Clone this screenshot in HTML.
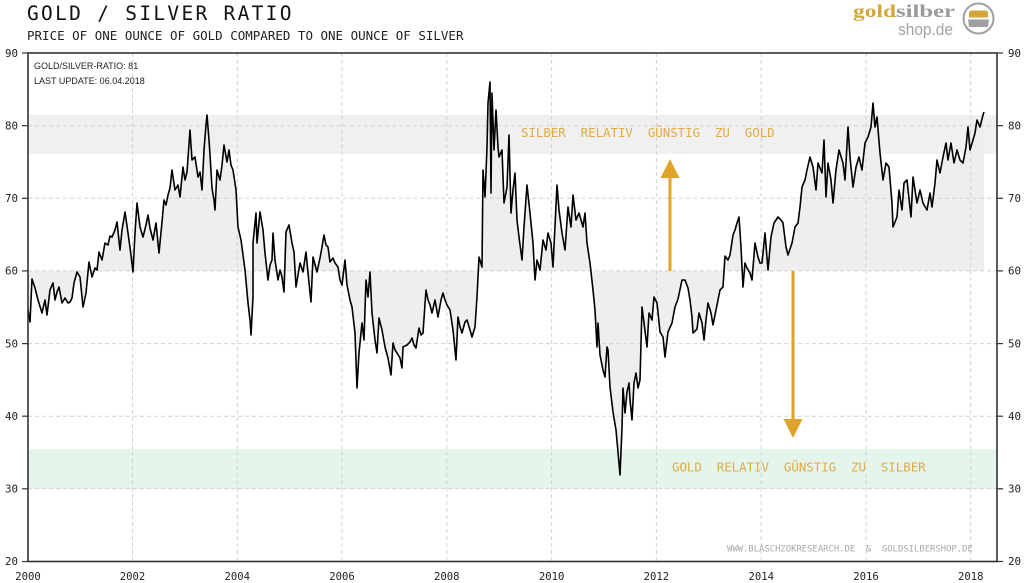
<!DOCTYPE html>
<html><head><meta charset="utf-8"><style>
html,body{margin:0;padding:0;background:#fff;}
svg{display:block;}
.mono{font-family:"DejaVu Sans Mono","Liberation Mono",monospace;}
</style></head><body>
<svg width="1024" height="583" viewBox="0 0 1024 583" xmlns="http://www.w3.org/2000/svg">
<rect x="0" y="0" width="1024" height="583" fill="#fff"/>
<rect x="28" y="115" width="969" height="39" fill="#f0f0f0"/>
<rect x="28" y="449" width="969" height="40" fill="#e4f5eb"/>
<polygon fill="#eeeeee" points="28,310 30,322 32,279 35,288 38,300 42,313 45,300 47,315 50,290 53,283 55,300 57,292 59,287 62,303 65,298 68,303 70,302 72,298 74,283 77,272 80,277 83,307 86,293 89,262 92,277 95,268 97,270 99,252 102,260 105,243 108,245 110,236 112,237 115,230 117,222 120,250 122,230 125,212 128,233 131,255 133,272 135,233 137,203 140,227 143,237 146,225 148,215 150,228 153,240 156,223 159,253 162,222 164,200 166,205 168,195 170,188 172,170 175,190 178,185 180,197 183,167 185,180 187,172 190,130 192,160 195,157 198,177 200,172 202,190 204,150 206,125 207,115 209,140 210,155 212,188 214,200 215,210 217,170 220,180 222,165 224,145 227,162 229,150 231,165 233,170 236,190 238,227 241,240 243,255 245,270 248,303 250,320 251,335 253,297 253,243 256,213 257,243 260,212 263,230 265,253 268,280 270,265 272,260 273,233 275,260 278,280 280,270 282,277 284,292 286,232 289,225 292,243 294,252 296,287 298,275 300,263 303,272 306,252 308,273 311,302 313,257 317,272 320,258 322,247 324,235 326,245 328,247 330,262 333,258 335,263 338,267 340,280 342,285 345,260 347,285 350,300 352,307 355,333 357,388 359,353 362,323 364,340 366,280 368,297 370,272 372,313 375,340 377,353 379,318 382,330 385,347 388,358 391,375 393,343 395,350 397,353 400,358 402,368 403,347 407,345 410,342 412,338 414,345 416,348 419,328 421,335 423,333 426,290 428,300 430,305 432,313 435,300 438,317 441,300 443,293 445,300 447,305 450,310 453,330 456,360 458,317 460,327 462,333 465,322 467,320 470,330 472,337 475,327 477,297 479,257 482,267 483,170 485,197 487,147 488,103 490,82 491,193 492,93 494,150 496,110 498,147 499,157 502,150 504,203 507,187 509,135 511,213 513,190 515,173 517,220 519,237 522,260 524,227 527,185 530,213 533,243 535,280 537,260 540,270 543,240 546,250 548,233 551,243 553,267 557,185 559,210 562,233 565,250 568,207 571,227 573,195 576,220 579,213 583,227 585,213 587,243 590,263 593,290 595,310 597,347 598,323 600,355 603,370 605,377 607,347 608,350 610,387 613,412 616,430 618,452 620,475 622,428 623,388 625,413 627,392 629,383 630,400 632,420 634,383 636,373 638,388 640,380 642,307 644,323 647,347 649,313 652,320 654,297 657,303 660,332 663,337 665,357 668,332 672,323 675,307 678,299 682,280 685,280 688,288 690,300 692,317 693,333 697,329 699,313 702,323 704,340 706,320 708,303 711,313 713,325 717,305 720,290 723,287 725,256 728,260 730,255 733,235 735,230 737,223 739,217 741,247 743,287 745,263 747,268 750,273 752,280 755,243 758,257 760,263 762,263 765,233 768,270 771,237 774,223 778,217 781,220 783,223 786,247 788,255 792,243 795,227 798,223 800,207 802,187 805,180 807,170 810,157 813,167 816,190 818,163 822,173 824,140 826,197 828,163 831,180 833,203 836,170 839,150 843,163 845,180 848,127 850,157 853,187 856,167 859,157 862,170 865,143 868,137 871,127 873,103 875,127 877,117 880,153 883,180 886,163 889,167 892,203 893,227 897,217 899,190 902,210 904,183 907,180 911,217 913,177 917,203 920,190 923,203 927,210 930,193 932,207 935,183 937,160 940,173 943,157 946,143 948,160 951,143 954,163 957,150 960,160 963,163 966,147 968,127 970,150 973,140 975,133 977,120 980,127 983,115 984,112 984,270.9 28,270.9"/>
<g stroke="#d2d2d2" stroke-width="1" stroke-dasharray="4,3" fill="none">
<line x1="28" y1="125.7" x2="997" y2="125.7"/>
<line x1="28" y1="198.3" x2="997" y2="198.3"/>
<line x1="28" y1="270.9" x2="997" y2="270.9"/>
<line x1="28" y1="343.6" x2="997" y2="343.6"/>
<line x1="28" y1="416.2" x2="997" y2="416.2"/>
<line x1="28" y1="488.8" x2="997" y2="488.8"/>
<line x1="132.5" y1="53" x2="132.5" y2="561"/>
<line x1="237.3" y1="53" x2="237.3" y2="561"/>
<line x1="342" y1="53" x2="342" y2="561"/>
<line x1="446.8" y1="53" x2="446.8" y2="561"/>
<line x1="551.6" y1="53" x2="551.6" y2="561"/>
<line x1="656.4" y1="53" x2="656.4" y2="561"/>
<line x1="761.2" y1="53" x2="761.2" y2="561"/>
<line x1="866" y1="53" x2="866" y2="561"/>
<line x1="970.7" y1="53" x2="970.7" y2="561"/>
</g>
<g fill="#dfa22b">
<rect x="668.5" y="176" width="3" height="95"/>
<polygon points="660.5,178 679.5,178 670,159"/>
<rect x="791.5" y="271" width="3" height="150"/>
<polygon points="783.5,419 802.5,419 793,438"/>
</g>
<text class="mono" x="521" y="137" font-size="12.4" fill="#e2aa40" style="white-space:pre">SILBER  RELATIV  GÜNSTIG  ZU  GOLD</text>
<text class="mono" x="672" y="471.5" font-size="12.4" fill="#e2aa40" style="white-space:pre">GOLD  RELATIV  GÜNSTIG  ZU  SILBER</text>
<text class="mono" x="727" y="551.5" font-size="8.9" fill="#a8a8a8" style="white-space:pre">WWW.BLASCHZOKRESEARCH.DE  &amp;  GOLDSILBERSHOP.DE</text>
<polyline fill="none" stroke="#000" stroke-width="1.6" stroke-linejoin="round" points="28,310 30,322 32,279 35,288 38,300 42,313 45,300 47,315 50,290 53,283 55,300 57,292 59,287 62,303 65,298 68,303 70,302 72,298 74,283 77,272 80,277 83,307 86,293 89,262 92,277 95,268 97,270 99,252 102,260 105,243 108,245 110,236 112,237 115,230 117,222 120,250 122,230 125,212 128,233 131,255 133,272 135,233 137,203 140,227 143,237 146,225 148,215 150,228 153,240 156,223 159,253 162,222 164,200 166,205 168,195 170,188 172,170 175,190 178,185 180,197 183,167 185,180 187,172 190,130 192,160 195,157 198,177 200,172 202,190 204,150 206,125 207,115 209,140 210,155 212,188 214,200 215,210 217,170 220,180 222,165 224,145 227,162 229,150 231,165 233,170 236,190 238,227 241,240 243,255 245,270 248,303 250,320 251,335 253,297 253,243 256,213 257,243 260,212 263,230 265,253 268,280 270,265 272,260 273,233 275,260 278,280 280,270 282,277 284,292 286,232 289,225 292,243 294,252 296,287 298,275 300,263 303,272 306,252 308,273 311,302 313,257 317,272 320,258 322,247 324,235 326,245 328,247 330,262 333,258 335,263 338,267 340,280 342,285 345,260 347,285 350,300 352,307 355,333 357,388 359,353 362,323 364,340 366,280 368,297 370,272 372,313 375,340 377,353 379,318 382,330 385,347 388,358 391,375 393,343 395,350 397,353 400,358 402,368 403,347 407,345 410,342 412,338 414,345 416,348 419,328 421,335 423,333 426,290 428,300 430,305 432,313 435,300 438,317 441,300 443,293 445,300 447,305 450,310 453,330 456,360 458,317 460,327 462,333 465,322 467,320 470,330 472,337 475,327 477,297 479,257 482,267 483,170 485,197 487,147 488,103 490,82 491,193 492,93 494,150 496,110 498,147 499,157 502,150 504,203 507,187 509,135 511,213 513,190 515,173 517,220 519,237 522,260 524,227 527,185 530,213 533,243 535,280 537,260 540,270 543,240 546,250 548,233 551,243 553,267 557,185 559,210 562,233 565,250 568,207 571,227 573,195 576,220 579,213 583,227 585,213 587,243 590,263 593,290 595,310 597,347 598,323 600,355 603,370 605,377 607,347 608,350 610,387 613,412 616,430 618,452 620,475 622,428 623,388 625,413 627,392 629,383 630,400 632,420 634,383 636,373 638,388 640,380 642,307 644,323 647,347 649,313 652,320 654,297 657,303 660,332 663,337 665,357 668,332 672,323 675,307 678,299 682,280 685,280 688,288 690,300 692,317 693,333 697,329 699,313 702,323 704,340 706,320 708,303 711,313 713,325 717,305 720,290 723,287 725,256 728,260 730,255 733,235 735,230 737,223 739,217 741,247 743,287 745,263 747,268 750,273 752,280 755,243 758,257 760,263 762,263 765,233 768,270 771,237 774,223 778,217 781,220 783,223 786,247 788,255 792,243 795,227 798,223 800,207 802,187 805,180 807,170 810,157 813,167 816,190 818,163 822,173 824,140 826,197 828,163 831,180 833,203 836,170 839,150 843,163 845,180 848,127 850,157 853,187 856,167 859,157 862,170 865,143 868,137 871,127 873,103 875,127 877,117 880,153 883,180 886,163 889,167 892,203 893,227 897,217 899,190 902,210 904,183 907,180 911,217 913,177 917,203 920,190 923,203 927,210 930,193 932,207 935,183 937,160 940,173 943,157 946,143 948,160 951,143 954,163 957,150 960,160 963,163 966,147 968,127 970,150 973,140 975,133 977,120 980,127 983,115 984,112"/>
<g stroke="#333" stroke-width="1.6" fill="none">
<rect x="28" y="53" width="969" height="508.5"/>
</g>
<g stroke="#333" stroke-width="1.2">
<line x1="22" y1="53" x2="28" y2="53"/><line x1="22" y1="125.7" x2="28" y2="125.7"/><line x1="22" y1="198.3" x2="28" y2="198.3"/><line x1="22" y1="270.9" x2="28" y2="270.9"/><line x1="22" y1="343.6" x2="28" y2="343.6"/><line x1="22" y1="416.2" x2="28" y2="416.2"/><line x1="22" y1="488.8" x2="28" y2="488.8"/><line x1="22" y1="561.5" x2="28" y2="561.5"/>
<line x1="997" y1="53" x2="1003" y2="53"/><line x1="997" y1="125.7" x2="1003" y2="125.7"/><line x1="997" y1="198.3" x2="1003" y2="198.3"/><line x1="997" y1="270.9" x2="1003" y2="270.9"/><line x1="997" y1="343.6" x2="1003" y2="343.6"/><line x1="997" y1="416.2" x2="1003" y2="416.2"/><line x1="997" y1="488.8" x2="1003" y2="488.8"/><line x1="997" y1="561.5" x2="1003" y2="561.5"/>
</g>
<g class="mono" font-size="10.8" fill="#222" text-anchor="end">
<text x="18" y="57">90</text><text x="18" y="129.5">80</text><text x="18" y="202">70</text><text x="18" y="274.5">60</text><text x="18" y="347.5">50</text><text x="18" y="420">40</text><text x="18" y="492.5">30</text><text x="18" y="565">20</text>
</g>
<g class="mono" font-size="10.8" fill="#222">
<text x="1008" y="57">90</text><text x="1008" y="129.5">80</text><text x="1008" y="202">70</text><text x="1008" y="274.5">60</text><text x="1008" y="347.5">50</text><text x="1008" y="420">40</text><text x="1008" y="492.5">30</text><text x="1008" y="565">20</text>
</g>
<g class="mono" font-size="10.6" fill="#222" text-anchor="middle">
<text x="28" y="580">2000</text><text x="132.5" y="580">2002</text><text x="237.3" y="580">2004</text><text x="342" y="580">2006</text><text x="446.8" y="580">2008</text><text x="551.6" y="580">2010</text><text x="656.4" y="580">2012</text><text x="761.2" y="580">2014</text><text x="866" y="580">2016</text><text x="970.7" y="580">2018</text>
</g>
<text x="34" y="69" font-family="Liberation Sans, sans-serif" font-size="9" fill="#222">GOLD/SILVER-RATIO: 81</text>
<text x="34" y="84" font-family="Liberation Sans, sans-serif" font-size="9" fill="#222">LAST UPDATE: 06.04.2018</text>
<text class="mono" x="27" y="20" font-size="19.5" letter-spacing="2.3" fill="#111">GOLD / SILVER RATIO</text>
<text class="mono" x="27" y="40" font-size="12.5" fill="#222">PRICE OF ONE OUNCE OF GOLD COMPARED TO ONE OUNCE OF SILVER</text>
<text x="853" y="17" font-family="Liberation Serif, serif" font-weight="bold" font-size="18" fill="#d3a53a" textLength="43" lengthAdjust="spacingAndGlyphs">gold</text>
<text x="896" y="17" font-family="Liberation Serif, serif" font-weight="bold" font-size="18" fill="#9a9a9a" textLength="59" lengthAdjust="spacingAndGlyphs">silber</text>
<text x="898" y="35" font-family="Liberation Sans, sans-serif" font-size="16.5" fill="#a3a3a3" textLength="55" lengthAdjust="spacingAndGlyphs">shop.de</text>
<circle cx="978.5" cy="18.5" r="15" fill="none" stroke="#a0a0a0" stroke-width="2"/>
<path d="M969,17.5 L988,17.5 L988,13 Q988,10.5 985,10.5 L972,10.5 Q969,10.5 969,13 Z" fill="#d3a53a"/>
<path d="M968,19.5 L989,19.5 L988,27 L969,27 Z" fill="#a0a0a0"/>
</svg>
</body></html>
